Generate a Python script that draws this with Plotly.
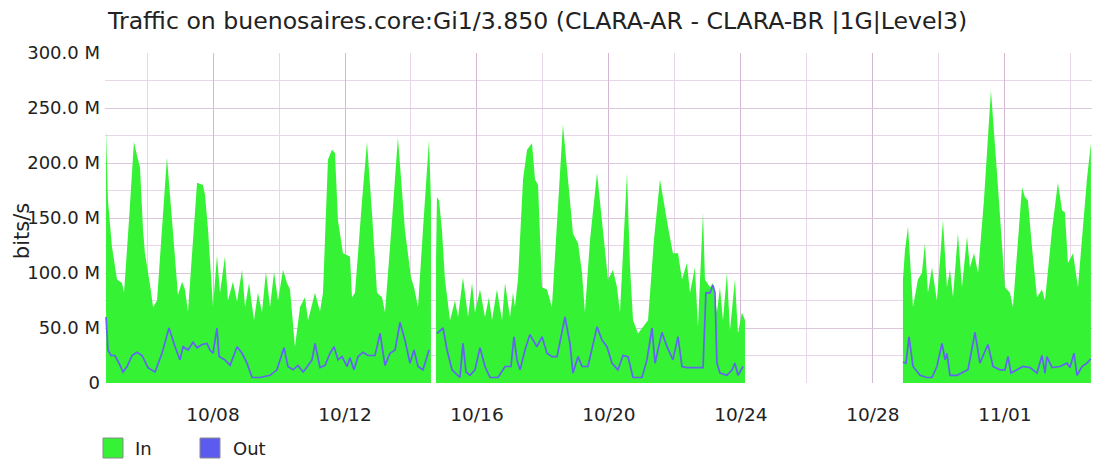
import pandas as pd
import plotly.graph_objects as go

# ---- data (hours since 2016-10-04 00:00, values in Mbit/s; None = no data) ----
in_hours = [18.2, 19.6, 22.5, 26.2, 29.8, 31.3, 34.9, 38.5, 40.7, 42.9, 45.1, 46.5, 50.2, 52.4, 55.3, 58.9,
            62.5, 66.2, 70.5, 73.5, 75.6, 77.8, 81.5, 84.4, 88.7, 90.2, 92.4, 96.0, 98.9, 101.1, 104.7, 106.9,
            110.5, 113.5, 117.1, 119.3, 122.2, 125.8, 128.7, 131.6, 134.5, 137.5, 140.4, 143.3, 146.9, 149.8,
            152.0, 155.6, 159.3, 162.9, 165.1, 170.2, 173.8, 176.0, 179.6, 182.5, 184.7, 186.9, 190.5, 195.6,
            197.1, 199.3, 204.4, 208.0, 211.6, 215.3, 218.9, 221.1, 226.2, 230.5, 235.6, 240.0, 242.2, 245.1,
            248.7, 253.1, 254.5, 256.0,
            258.2, 258.9, 260.4, 262.5, 264.7, 268.4, 272.0, 274.2, 277.8, 281.5, 284.4, 286.5, 290.2, 293.8,
            296.7, 298.9, 302.5, 306.2, 308.4, 312.0, 314.2, 315.6, 317.8, 321.5, 324.4, 328.0, 330.2, 332.4,
            335.3, 338.9, 342.5, 346.2, 350.5, 354.2, 357.8, 361.5, 364.4, 366.5, 370.2, 375.3, 378.9, 383.3,
            386.9, 389.8, 392.0, 397.1, 399.3, 401.5, 405.1, 408.7, 412.4, 416.7, 421.1, 426.9, 430.5, 434.2,
            437.1, 440.7, 442.9, 446.5, 448.7, 452.4, 453.8, 457.5, 459.6, 462.5, 464.7, 466.9, 469.8, 472.0,
            475.6, 477.8, 480.7, 482.9, 540.0,
            597.8, 599.3, 601.5, 605.1, 608.7, 611.6, 613.8, 616.0, 618.9, 622.5, 626.9, 629.8, 632.0, 634.2,
            637.8, 640.7, 644.4, 646.5, 649.5, 652.4, 656.7, 661.8, 666.2, 669.8, 672.0, 675.6, 677.8, 681.5,
            684.4, 686.5, 688.7, 691.6, 695.3, 698.9, 701.1, 706.2, 710.5, 713.5, 715.6, 717.8, 721.5, 725.1,
            728.7, 731.6, 734.5]
in_values = [230, 166, 124, 94, 91, 82, 148, 219, 207, 196, 139, 118, 89, 69, 75, 139,
             205, 148, 80, 92, 85, 65, 130, 182, 180, 171, 139, 69, 116, 82, 115, 75,
             92, 74, 103, 69, 91, 57, 82, 64, 101, 69, 101, 75, 103, 91,
             85, 33, 69, 78, 57, 82, 65, 82, 203, 212, 209, 148, 118, 115,
             78, 82, 166, 219, 155, 82, 78, 64, 148, 223, 139, 96, 87, 69,
             139, 221, 166, None,
             112, 169, 166, 139, 94, 57, 75, 60, 96, 60, 91, 64, 85, 60,
             78, 57, 85, 57, 91, 60, 82, 69, 94, 185, 212, 218, 185, 180,
             87, 85, 69, 148, 235, 185, 136, 127, 100, 64, 130, 191, 148, 94,
             103, 87, 64, 191, 105, 57, 45, 51, 57, 130, 185, 142, 118, 118,
             94, 109, 82, 105, 51, 155, 94, 87, 91, 64, 87, 57, 100, 48,
             94, 45, 64, 57, None,
             94, 121, 142, 69, 94, 100, 127, 82, 105, 75, 148, 87, 103, 78,
             136, 87, 133, 105, 118, 100, 166, 266, 191, 124, 87, 82, 69, 130,
             178, 169, 166, 124, 78, 85, 75, 139, 182, 157, 155, 109, 118, 87,
             139, 185, 218]

out_hours = [18.2, 19.6, 21.8, 24.7, 28.4, 30.5, 33.5, 37.1, 40.7, 44.4, 48.7, 53.8, 58.9, 64.0, 68.4, 72.0,
             74.2, 77.8, 81.5, 84.4, 88.0, 91.6, 93.8, 96.0, 98.9, 100.4, 104.7, 108.4, 113.5, 117.1, 120.7,
             124.4, 130.2, 137.5, 142.5, 144.7, 147.6, 150.5, 154.2, 157.8, 161.5, 162.9, 168.0, 170.2, 173.8,
             177.5, 181.1, 184.0, 186.9, 189.8, 193.5, 195.6, 198.5, 201.5, 205.1, 208.7, 213.8, 217.5, 221.1,
             224.7, 228.4, 232.0, 235.6, 239.3, 242.2, 245.1, 248.7, 253.1, 256.0,
             258.9, 263.3, 266.2, 269.8, 275.6, 277.8, 280.0, 282.9, 286.5, 290.2, 293.8, 297.5, 303.3, 308.4,
             312.7, 314.9, 317.1, 319.3, 322.9, 326.5, 331.6, 335.3, 338.9, 342.5, 346.2, 352.0, 355.6, 357.8,
             361.5, 364.4, 368.7, 375.3, 378.9, 382.5, 386.2, 390.5, 394.2, 397.8, 401.5, 408.0, 411.6, 415.3,
             417.5, 422.5, 426.2, 430.5, 434.2, 437.1, 440.7, 446.5, 452.4, 454.5, 457.5, 459.6, 461.1, 462.5,
             464.7, 469.8, 473.5, 475.6, 477.8, 481.5, 540.0,
             597.8, 600.0, 602.2, 605.1, 610.2, 615.3, 618.9, 622.5, 626.2, 628.4, 629.8, 632.0, 637.1, 640.7,
             645.1, 650.2, 653.8, 659.6, 663.3, 668.4, 672.0, 674.2, 676.4, 680.7, 685.1, 690.2, 695.3, 698.9,
             701.1, 702.5, 706.2, 712.0, 717.1, 719.3, 722.2, 724.4, 728.0, 731.6, 734.5]
out_values = [60, 30, 25, 25, 16, 10, 15, 25, 28, 25, 14, 10, 27, 50, 33, 21,
              33, 30, 37, 32, 35, 36, 30, 27, 50, 24, 21, 16, 33, 27, 18,
              5, 5, 7, 12, 21, 32, 15, 12, 16, 10, 12, 21, 36, 14,
              16, 27, 33, 21, 24, 15, 23, 12, 24, 28, 25, 25, 45, 16,
              27, 30, 55, 39, 18, 30, 15, 12, 30, None,
              45, 50, 30, 12, 5, 36, 10, 7, 12, 32, 15, 5, 5, 15,
              15, 42, 21, 12, 30, 44, 33, 42, 27, 24, 24, 60, 36, 9,
              24, 15, 15, 51, 39, 33, 18, 12, 25, 24, 5, 5, 21, 50,
              18, 46, 33, 21, 42, 15, 14, 14, 14, 82, 82, 89, 82, 18,
              9, 7, 12, 18, 7, 15, None,
              19, 18, 42, 15, 7, 5, 5, 15, 36, 21, 27, 7, 7, 9,
              12, 46, 18, 35, 15, 12, 12, 24, 9, 12, 15, 14, 9, 25,
              9, 24, 14, 15, 18, 14, 27, 7, 15, 18, 22]

y_tick_values = [0, 50, 100, 150, 200, 250, 300]
y_tick_labels = ["0", "50.0 M", "100.0 M", "150.0 M", "200.0 M", "250.0 M", "300.0 M"]
x_start_hours = 17.45
x_end_hours = 735.3

base = pd.Timestamp("2016-10-04 00:00")
def to_time(hours):
    return [base + pd.Timedelta(hours=h) for h in hours]

def segments(hours, values):
    segs, cur_h, cur_v = [], [], []
    for h, v in zip(hours, values):
        if v is None:
            if cur_h:
                segs.append((cur_h, cur_v))
            cur_h, cur_v = [], []
        else:
            cur_h.append(h)
            cur_v.append(v)
    if cur_h:
        segs.append((cur_h, cur_v))
    return segs

GREEN = "#35F235"
BLUE = "#6464F2"
FONT = "DejaVu Sans"
TXT = "#222222"

fig = go.Figure()
for sh, sv in segments(in_hours, in_values):
    fig.add_trace(go.Scatter(x=to_time(sh), y=sv, mode="lines", fill="tozeroy",
                             line=dict(width=0, color=GREEN), fillcolor=GREEN,
                             showlegend=False, name="In", hoverinfo="skip"))
for sh, sv in segments(out_hours, out_values):
    fig.add_trace(go.Scatter(x=to_time(sh), y=sv, mode="lines",
                             line=dict(width=1.7, color=BLUE),
                             showlegend=False, name="Out"))

fig.update_layout(
    width=1094, height=461,
    margin=dict(l=105, r=2, t=53, b=78),
    paper_bgcolor="white", plot_bgcolor="white",
    font=dict(family=FONT, size=18, color=TXT),
    title=dict(text="Traffic on buenosaires.core:Gi1/3.850 (CLARA-AR - CLARA-BR |1G|Level3)",
               x=108 / 1094, xanchor="left", xref="container",
               y=1 - 21 / 461, yanchor="middle", yref="container",
               font=dict(family=FONT, size=23.6, color=TXT)),
    xaxis=dict(
        type="date",
        range=to_time([x_start_hours, x_end_hours]),
        tick0="2016-10-08", dtick=4 * 86400000, tickformat="%m/%d",
        showgrid=True, gridcolor="#D2B8D2", gridwidth=1,
        minor=dict(dtick=2 * 86400000, tick0="2016-10-06", showgrid=True, gridcolor="#E8D6E8"),
        ticks="", ticklabelstandoff=18, zeroline=False, showline=False,
        tickfont=dict(size=18.5),
    ),
    yaxis=dict(
        range=[0, 300], tickvals=y_tick_values, ticktext=y_tick_labels,
        showgrid=True, gridcolor="#DCC6DC", gridwidth=1,
        minor=dict(dtick=25, showgrid=True, gridcolor="#E8D6E8"),
        ticks="", ticklabelstandoff=4, zeroline=False, showline=False,
        tickfont=dict(size=18),
    ),
)

# y axis title
fig.add_annotation(text="bits/s", textangle=-90, xref="paper", yref="paper",
                   x=(22 - 105) / 987, y=0.46, xanchor="center", yanchor="middle",
                   showarrow=False, font=dict(size=21, family=FONT, color=TXT))

# legend drawn as boxes + labels
legend_items = [("In", GREEN, 103, 133), ("Out", "#5B5BF0", 200, 231)]
for label, col, bx, tx in legend_items:
    fig.add_shape(type="rect", xref="paper", yref="paper",
                  x0=(bx - 105) / 987, x1=(bx + 20 - 105) / 987,
                  y0=(383 - 438) / 330, y1=(383 - 458) / 330,
                  fillcolor=col, line=dict(color="#8A8A8A", width=1))
    fig.add_annotation(text=label, xref="paper", yref="paper", x=(tx - 105) / 987,
                       y=(383 - 448) / 330, xanchor="left", yanchor="middle",
                       showarrow=False, font=dict(size=18, family=FONT, color=TXT))

fig.write_html("out.html", config={"displayModeBar": False},
               post_script="document.body.style.margin='0';document.body.style.overflow='hidden';")
